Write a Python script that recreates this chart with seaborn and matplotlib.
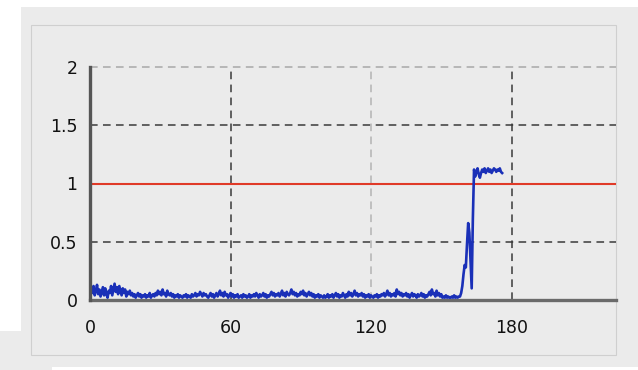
import numpy as np
import matplotlib
matplotlib.use("Agg")
import matplotlib.pyplot as plt
import seaborn as sns
from matplotlib.patches import Rectangle

# ---- data ----
sample_step = 0.5  # seconds between samples
signal = [
    0.03, 0.10, 0.06, 0.12, 0.04, 0.08, 0.13, 0.05, 0.09, 0.03, 0.07, 0.11, 0.04, 0.10, 0.05, 0.02, 0.08, 0.06, 0.12, 0.04,
    0.09, 0.14, 0.07, 0.11, 0.05, 0.12, 0.08, 0.04, 0.10, 0.06, 0.09, 0.03, 0.07, 0.05, 0.08, 0.04, 0.06, 0.03, 0.05, 0.02,
    0.04, 0.06, 0.03, 0.05, 0.02, 0.04, 0.03, 0.05, 0.02, 0.04, 0.03, 0.06, 0.02, 0.04, 0.05, 0.03, 0.06, 0.04, 0.08, 0.05,
    0.07, 0.04, 0.09, 0.05, 0.06, 0.03, 0.08, 0.05, 0.04, 0.06, 0.03, 0.05, 0.02, 0.04, 0.03, 0.05, 0.02, 0.04, 0.03, 0.02,
    0.04, 0.03, 0.05, 0.02, 0.04, 0.03, 0.02, 0.05, 0.03, 0.04, 0.06, 0.03, 0.05, 0.04, 0.07, 0.05, 0.03, 0.06, 0.04, 0.05,
    0.03, 0.02, 0.04, 0.06, 0.03, 0.05, 0.02, 0.04, 0.06, 0.03, 0.05, 0.08, 0.04, 0.06, 0.03, 0.07, 0.04, 0.05, 0.02, 0.04,
    0.06, 0.03, 0.05, 0.02, 0.04, 0.03, 0.05, 0.02, 0.03, 0.04, 0.02, 0.05, 0.03, 0.04, 0.02, 0.03, 0.05, 0.02, 0.04, 0.03,
    0.05, 0.03, 0.06, 0.04, 0.02, 0.05, 0.03, 0.04, 0.06, 0.03, 0.05, 0.02, 0.04, 0.03, 0.05, 0.07, 0.04, 0.06, 0.03, 0.05,
    0.04, 0.06, 0.03, 0.05, 0.08, 0.04, 0.06, 0.03, 0.07, 0.05, 0.04, 0.06, 0.09, 0.05, 0.07, 0.04, 0.06, 0.03, 0.05, 0.04,
    0.07, 0.05, 0.08, 0.04, 0.06, 0.03, 0.05, 0.07, 0.04, 0.06, 0.03, 0.05, 0.02, 0.04, 0.03, 0.05, 0.02, 0.04, 0.03, 0.02,
    0.04, 0.02, 0.03, 0.05, 0.02, 0.04, 0.03, 0.05, 0.02, 0.04, 0.06, 0.03, 0.05, 0.02, 0.04, 0.03, 0.06, 0.04, 0.02, 0.05,
    0.03, 0.07, 0.04, 0.06, 0.03, 0.05, 0.08, 0.04, 0.06, 0.03, 0.05, 0.04, 0.06, 0.03, 0.05, 0.02, 0.04, 0.03, 0.05, 0.02,
    0.04, 0.03, 0.02, 0.04, 0.03, 0.05, 0.02, 0.04, 0.03, 0.05, 0.04, 0.06, 0.03, 0.05, 0.08, 0.04, 0.06, 0.03, 0.05, 0.04,
    0.06, 0.03, 0.09, 0.05, 0.07, 0.04, 0.06, 0.03, 0.05, 0.04, 0.06, 0.03, 0.05, 0.02, 0.04, 0.06, 0.03, 0.05, 0.04, 0.02,
    0.05, 0.03, 0.04, 0.06, 0.03, 0.05, 0.02, 0.04, 0.03, 0.05, 0.07, 0.04, 0.09, 0.05, 0.06, 0.03, 0.08, 0.04, 0.06, 0.03,
    0.05, 0.02, 0.03, 0.02, 0.04, 0.02, 0.03, 0.02, 0.02, 0.03, 0.02, 0.04, 0.02, 0.03, 0.02, 0.03,
    0.03, 0.06, 0.12, 0.22, 0.30, 0.28, 0.48, 0.66, 0.58, 0.35, 0.10, 0.70, 1.12,
    1.06, 1.10, 1.13, 1.08, 1.05, 1.09, 1.12, 1.10, 1.13, 1.09, 1.11, 1.13, 1.10, 1.12, 1.09, 1.11, 1.13, 1.12,
    1.10, 1.12, 1.11, 1.13, 1.10, 1.09,
]
time_s = np.arange(len(signal)) * sample_step
threshold = 1.0
x_ticks = [0, 60, 120, 180]
x_tick_labels = ["0", "60", "120", "180"]
y_ticks = [0, 0.5, 1, 1.5, 2]
y_tick_labels = ["0", "0.5", "1", "1.5", "2"]

# ---- figure ----
W, H = 638, 370
fig = plt.figure(figsize=(W / 100, H / 100), dpi=100, facecolor="white")

panel_col = "#ebebeb"


def px_rect(x0, y0, x1, y1, **kw):
    fig.patches.append(Rectangle((x0 / W, 1 - y1 / H), (x1 - x0) / W, (y1 - y0) / H,
                                 transform=fig.transFigure, figure=fig, zorder=-10, **kw))


px_rect(21, 7, 638, 367, facecolor=panel_col, edgecolor="none")
px_rect(0, 331, 21, 370, facecolor=panel_col, edgecolor="none")
px_rect(21, 367, 52, 370, facecolor=panel_col, edgecolor="none")
px_rect(31, 25, 616, 355, facecolor="none", edgecolor="#cfcfcf", linewidth=0.8)

ax_left, ax_right, ax_bottom_px, ax_top_px = 90, 616, 300, 67
ax = fig.add_axes([ax_left / W, 1 - ax_bottom_px / H, (ax_right - ax_left) / W,
                   (ax_bottom_px - ax_top_px) / H])
ax.set_zorder(5)
ax.set_facecolor("none")
ax.patch.set_alpha(0)

xmax = (ax_right - ax_left) / 140.5 * 60
ax.set_xlim(0, xmax)
ax.set_ylim(0, 2)

dash = (0, (5, 3.5))
for yv, col in [(0.5, "#3a3a3a"), (1.5, "#3a3a3a"), (2.0, "#a8a8a8")]:
    ax.axhline(yv, color=col, lw=1.1, linestyle=dash, zorder=1, clip_on=False)
for xv, col in [(60, "#3a3a3a"), (120, "#b4b4b4"), (180, "#3a3a3a")]:
    ax.axvline(xv, color=col, lw=1.1, linestyle=dash, zorder=1)

ax.axhline(threshold, color="#e03a28", lw=1.5, zorder=2)

sns.lineplot(x=time_s, y=signal, ax=ax, color="#1a30b8", linewidth=1.9, zorder=3)

for s in ["top", "right"]:
    ax.spines[s].set_visible(False)
ax.spines["left"].set_color("#555555")
ax.spines["left"].set_linewidth(2.4)
ax.spines["bottom"].set_color("#6a6a6a")
ax.spines["bottom"].set_linewidth(2.4)
ax.spines["left"].set_zorder(4)
ax.spines["bottom"].set_zorder(2.5)

ax.set_xticks(x_ticks)
ax.set_xticklabels(x_tick_labels)
ax.set_yticks(y_ticks)
ax.set_yticklabels(y_tick_labels)
ax.tick_params(axis="x", length=0, pad=14, labelsize=12.5, labelcolor="#111111")
ax.tick_params(axis="y", length=0, pad=9, labelsize=12.5, labelcolor="#111111")
ax.set_xlabel("")
ax.set_ylabel("")

fig.savefig("out.png", dpi=100, facecolor=fig.get_facecolor())
